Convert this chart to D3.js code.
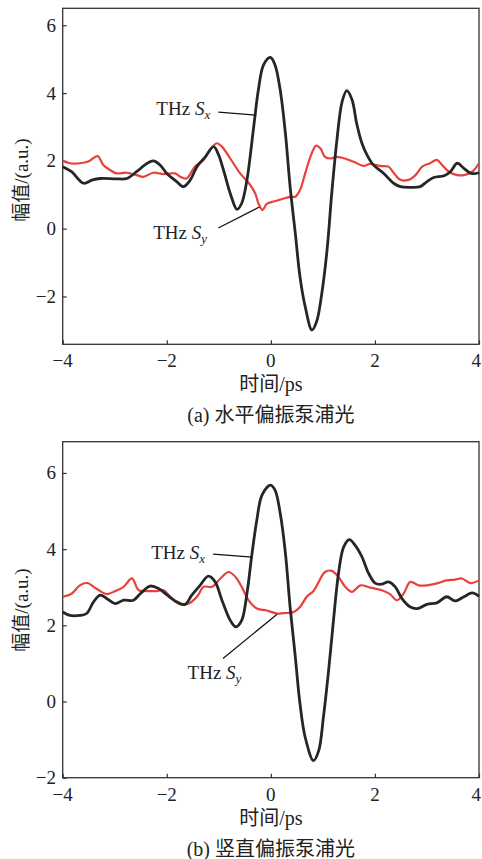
<!DOCTYPE html>
<html>
<head>
<meta charset="utf-8">
<script src="https://cdn.jsdelivr.net/npm/d3@7"></script>
<style>
  body { margin: 0; background: #fff; }
  svg text { font-family: "Liberation Serif", "Noto Sans CJK SC", serif; fill: #222; }
</style>
</head>
<body>
<svg id="chart" width="482" height="859"></svg>
<script>
"use strict";

// Data ////////////////////////////
var xTicks = [-4, -2, 0, 2, 4];
var yTicksA = [-2, 0, 2, 4, 6];
var yTicksB = [-2, 0, 2, 4, 6];

// (a) horizontal pump: [time ps, amplitude]
var sxA = [
  [-4, 1.83], [-3.83, 1.68], [-3.6, 1.34], [-3.44, 1.43], [-3.28, 1.48], [-2.96, 1.47],
  [-2.77, 1.48], [-2.58, 1.68], [-2.42, 1.88], [-2.26, 2.0], [-2.13, 1.88], [-2.0, 1.63],
  [-1.81, 1.39], [-1.68, 1.24], [-1.55, 1.43], [-1.42, 1.83], [-1.26, 2.12], [-1.1, 2.42],
  [-1.01, 2.2], [-0.91, 1.73], [-0.78, 1.04], [-0.65, 0.57], [-0.56, 0.75], [-0.46, 1.43],
  [-0.33, 3.0], [-0.24, 4.09], [-0.14, 4.83], [-0.01, 5.05], [0.08, 4.83], [0.18, 4.09],
  [0.28, 2.81], [0.37, 1.24], [0.47, -0.14], [0.56, -1.42], [0.66, -2.3], [0.79, -2.99],
  [0.88, -2.74], [0.98, -1.9], [1.08, -0.63], [1.17, 1.04], [1.27, 2.62], [1.37, 3.75],
  [1.46, 4.07], [1.56, 3.8], [1.65, 3.1], [1.75, 2.52], [1.85, 2.17], [1.97, 1.88],
  [2.17, 1.63], [2.36, 1.34], [2.49, 1.24], [2.68, 1.22], [2.87, 1.24], [3.0, 1.39],
  [3.13, 1.51], [3.33, 1.56], [3.45, 1.68], [3.58, 1.93], [3.71, 1.78], [3.85, 1.63],
  [4.0, 1.65]
];
var syA = [
  [-4, 2.0], [-3.86, 1.93], [-3.67, 1.93], [-3.51, 1.98], [-3.33, 2.14], [-3.22, 1.88],
  [-3.09, 1.73], [-2.96, 1.63], [-2.77, 1.65], [-2.58, 1.58], [-2.45, 1.53], [-2.26, 1.65],
  [-2.06, 1.61], [-1.84, 1.63], [-1.74, 1.53], [-1.62, 1.48], [-1.46, 1.83], [-1.29, 2.03],
  [-1.17, 2.32], [-1.04, 2.52], [-0.94, 2.42], [-0.78, 2.07], [-0.59, 1.63], [-0.42, 1.34],
  [-0.3, 1.04], [-0.24, 0.75], [-0.16, 0.55], [-0.08, 0.73], [0.05, 0.8], [0.21, 0.87],
  [0.37, 0.94], [0.47, 0.94], [0.56, 1.14], [0.66, 1.63], [0.76, 2.12], [0.87, 2.45],
  [0.95, 2.37], [1.04, 2.12], [1.14, 2.07], [1.27, 2.12], [1.46, 2.05], [1.65, 1.93],
  [1.78, 1.85], [1.91, 1.91], [2.1, 1.85], [2.26, 1.83], [2.36, 1.65], [2.49, 1.44],
  [2.65, 1.44], [2.78, 1.58], [2.91, 1.83], [3.06, 1.93], [3.19, 2.03], [3.29, 1.88],
  [3.42, 1.68], [3.58, 1.58], [3.71, 1.58], [3.87, 1.68], [4.0, 1.93]
];

// (b) vertical pump
var sxB = [
  [-4, 2.35], [-3.86, 2.26], [-3.67, 2.26], [-3.54, 2.31], [-3.41, 2.61], [-3.28, 2.79],
  [-3.15, 2.7], [-2.99, 2.57], [-2.83, 2.66], [-2.64, 2.66], [-2.51, 2.83], [-2.32, 3.03],
  [-2.15, 2.96], [-1.99, 2.79], [-1.8, 2.61], [-1.65, 2.55], [-1.52, 2.79], [-1.36, 3.05],
  [-1.2, 3.29], [-1.07, 3.14], [-0.94, 2.66], [-0.78, 2.13], [-0.67, 1.96], [-0.56, 2.13],
  [-0.46, 2.83], [-0.37, 3.8], [-0.27, 4.76], [-0.17, 5.42], [-0.01, 5.68], [0.08, 5.55],
  [0.18, 4.94], [0.28, 3.89], [0.37, 2.48], [0.47, 1.17], [0.56, -0.06], [0.66, -0.94],
  [0.82, -1.55], [0.92, -1.29], [1.01, -0.41], [1.11, 0.82], [1.21, 2.22], [1.3, 3.36],
  [1.4, 4.06], [1.51, 4.25], [1.62, 4.1], [1.75, 3.8], [1.88, 3.36], [2.01, 3.1],
  [2.13, 3.08], [2.26, 3.14], [2.39, 3.01], [2.52, 2.7], [2.68, 2.48], [2.81, 2.44],
  [3.0, 2.55], [3.19, 2.59], [3.38, 2.75], [3.54, 2.64], [3.71, 2.75], [3.87, 2.85],
  [4.0, 2.76]
];
var syB = [
  [-4, 2.75], [-3.83, 2.83], [-3.67, 3.05], [-3.53, 3.11], [-3.35, 2.96], [-3.15, 2.82],
  [-2.99, 2.9], [-2.83, 3.01], [-2.67, 3.23], [-2.54, 2.92], [-2.38, 2.9], [-2.19, 2.9],
  [-2.06, 2.92], [-1.93, 2.75], [-1.74, 2.55], [-1.58, 2.57], [-1.42, 2.75], [-1.29, 3.01],
  [-1.13, 3.01], [-0.97, 3.23], [-0.81, 3.4], [-0.68, 3.27], [-0.56, 3.01], [-0.43, 2.66],
  [-0.27, 2.44], [-0.08, 2.39], [0.12, 2.31], [0.24, 2.32], [0.44, 2.35], [0.56, 2.48],
  [0.69, 2.75], [0.82, 2.9], [0.92, 3.14], [1.04, 3.4], [1.17, 3.43], [1.3, 3.27],
  [1.43, 3.01], [1.56, 2.88], [1.72, 3.05], [1.91, 2.99], [2.13, 2.92], [2.29, 2.82],
  [2.42, 2.66], [2.55, 2.83], [2.68, 3.14], [2.84, 3.05], [3.0, 3.05], [3.19, 3.1],
  [3.38, 3.18], [3.54, 3.2], [3.67, 3.23], [3.83, 3.11], [4.0, 3.18]
];

// Label anchors: text position and leader line, in data units
var notesA = [
  { sub: "x", tx: -2.2, ty: 3.35, from: [-1.01, 3.44], to: [-0.28, 3.35] },
  { sub: "y", tx: -2.26, ty: -0.3, from: [-1.01, 0.02], to: [-0.22, 0.64] }
];
var notesB = [
  { sub: "x", tx: -2.3, ty: 3.75, from: [-1.11, 3.87], to: [-0.36, 3.79] },
  { sub: "y", tx: -1.6, ty: 0.6, from: [-0.92, 1.13], to: [0.12, 2.29] }
];

// Panel drawing /////////////////////////////////////////
var svg = d3.select("#chart");

var fmt = function(d) { return d < 0 ? "\u2212" + Math.abs(d) : String(d); };

function drawPanel(opt) {
  var g = svg.append("g");

  var x = d3.scaleLinear().domain([-4, 4]).range([62.7, 479]);
  var y = d3.scaleLinear().domain(opt.yDomain).range([opt.bottom, opt.top]);

  // frame
  g.append("rect")
      .attr("x", x(-4)).attr("y", opt.top)
      .attr("width", x(4) - x(-4)).attr("height", opt.bottom - opt.top)
      .attr("fill", "none").attr("stroke", "#333").attr("stroke-width", 1.3);

  // inward ticks
  g.append("g")
      .attr("transform", "translate(0," + opt.bottom + ")")
      .call(d3.axisBottom(x).tickValues(xTicks).tickSize(-4).tickFormat(""))
      .call(function(a) { a.select(".domain").remove(); });
  g.append("g")
      .attr("transform", "translate(" + x(-4) + ",0)")
      .call(d3.axisLeft(y).tickValues(opt.yTicks).tickSize(-4).tickFormat(""))
      .call(function(a) { a.select(".domain").remove(); });
  g.selectAll(".tick line").attr("stroke", "#333").attr("stroke-width", 1.2);

  // tick labels (last one kept inside the page edge)
  g.selectAll(".xlab").data(xTicks).enter().append("text")
      .attr("x", function(d, i) { return i === xTicks.length - 1 ? 481 : x(d); })
      .attr("y", opt.bottom + 23)
      .attr("text-anchor", function(d, i) { return i === xTicks.length - 1 ? "end" : "middle"; })
      .style("font-size", "19px")
      .text(fmt);
  g.selectAll(".ylab").data(opt.yTicks).enter().append("text")
      .attr("x", 56)
      .attr("y", function(d) { return y(d) + 6.5; })
      .attr("text-anchor", "end")
      .style("font-size", "19px")
      .text(fmt);

  // axis titles
  g.append("text")
      .attr("x", x(0)).attr("y", opt.bottom + 47)
      .attr("text-anchor", "middle")
      .style("font-size", "20px")
      .text("时间/ps");
  g.append("text")
      .attr("x", x(0)).attr("y", opt.bottom + 78)
      .attr("text-anchor", "middle")
      .style("font-size", "20px")
      .text(opt.caption);
  g.append("text")
      .attr("transform", "translate(28," + opt.yLabelY + ") rotate(-90)")
      .attr("text-anchor", "middle")
      .style("font-size", "19px")
      .text("幅值/(a.u.)");

  // curves
  var line = d3.line()
      .x(function(d) { return x(d[0]); })
      .y(function(d) { return y(d[1]); })
      .curve(d3.curveCatmullRom.alpha(0.5));

  var plot = g.append("g");
  plot.append("path").datum(opt.sy)
      .attr("d", line).attr("fill", "none")
      .attr("stroke", "#e8413c").attr("stroke-width", 2.2).attr("stroke-linejoin", "round");
  plot.append("path").datum(opt.sx)
      .attr("d", line).attr("fill", "none")
      .attr("stroke", "#262626").attr("stroke-width", 2.8).attr("stroke-linejoin", "round");

  // annotations
  opt.notes.forEach(function(n) {
    g.append("line")
        .attr("x1", x(n.from[0])).attr("y1", y(n.from[1]))
        .attr("x2", x(n.to[0])).attr("y2", y(n.to[1]))
        .attr("stroke", "#111").attr("stroke-width", 1.2);
    var t = g.append("text")
        .attr("x", x(n.tx)).attr("y", y(n.ty))
        .style("font-size", "19px");
    t.append("tspan").text("THz ");
    t.append("tspan").style("font-style", "italic").text("S");
    t.append("tspan").style("font-style", "italic").style("font-size", "13px")
        .attr("dy", 4).text(n.sub);
  });
}

drawPanel({
  top: 8.3, bottom: 344.3, yDomain: [-3.41, 6.5], yTicks: yTicksA,
  sx: sxA, sy: syA, notes: notesA, caption: "(a) 水平偏振泵浦光", yLabelY: 180
});
drawPanel({
  top: 441.7, bottom: 777.7, yDomain: [-2, 6.82], yTicks: yTicksB,
  sx: sxB, sy: syB, notes: notesB, caption: "(b) 竖直偏振泵浦光", yLabelY: 610
});
</script>
</body>
</html>
